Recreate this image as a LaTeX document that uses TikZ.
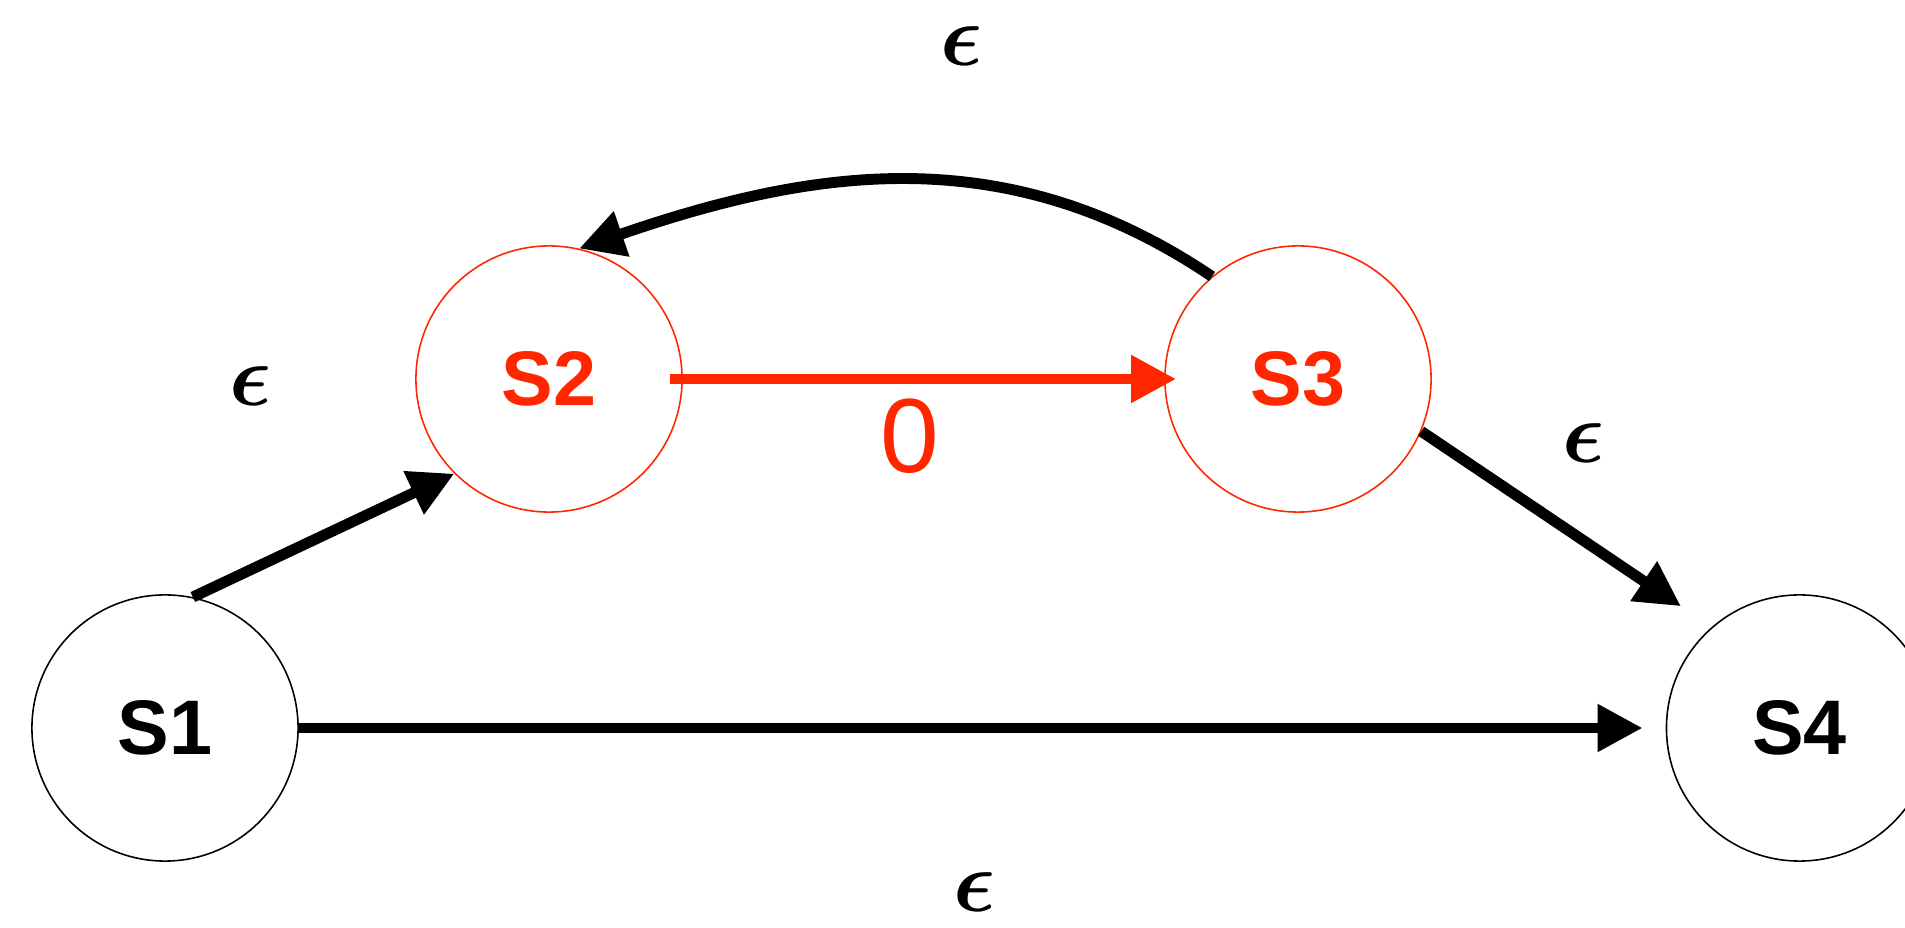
\documentclass[tikz,border=0pt]{standalone}
\usepackage{fontspec}
\usepackage{amsmath}
\setsansfont{Liberation Sans}
\usetikzlibrary{positioning,arrows.meta}
\definecolor{statered}{HTML}{FF2600}

\begin{document}
\begin{tikzpicture}[
    x=0.01cm, y=-0.01cm,
    >={Triangle[length=0.45cm,width=0.45cm]},
    every node/.style={font=\sffamily},
    state/.style={
        draw,
        circle,
        line width=0.45pt,
        minimum size=2.66cm,
        inner sep=0pt,
        font=\sffamily\bfseries\fontsize{22}{27}\selectfont
    },
    hot/.style={draw=statered, text=statered},
    edge/.style={->, line width=3.1pt},
    epslabel/.style={inner sep=0pt, font=\fontsize{34}{40}\selectfont}
]
\useasboundingbox (0,0) rectangle (1905,928);

\node[state] (S1) at (165,728) {S1};
\node[state, hot] (S2) at (549,379) {S2};
\node[state, hot, right=4.81cm of S2] (S3) {S3};
\node[state, right=13.66cm of S1] (S4) {S4};

\draw[edge] (S1.78) -- (S2.225);
\draw[edge, statered, shorten <=-0.13cm, shorten >=-0.12cm] (S2.east) -- (S3.west);
\draw[edge] (S3.130) to[out=146, in=19] (S2.77);
\draw[edge, shorten >=0.37cm] (S3.-23) -- (S4.131);
\draw[edge, shorten >=0.23cm] (S1.east) -- (S4.west);

\node[epslabel] (eps12) at (251,386) {$\boldsymbol{\epsilon}$};
\node[epslabel] (eps32) at (962,46) {$\boldsymbol{\epsilon}$};
\node[epslabel] (eps34) at (1584,443) {$\boldsymbol{\epsilon}$};
\node[epslabel] (eps14) at (975,892) {$\boldsymbol{\epsilon}$};
\node[inner sep=0pt, text=statered, font=\sffamily\fontsize{30}{36}\selectfont] (zero) at (910,436) {0};

\end{tikzpicture}
\end{document}
